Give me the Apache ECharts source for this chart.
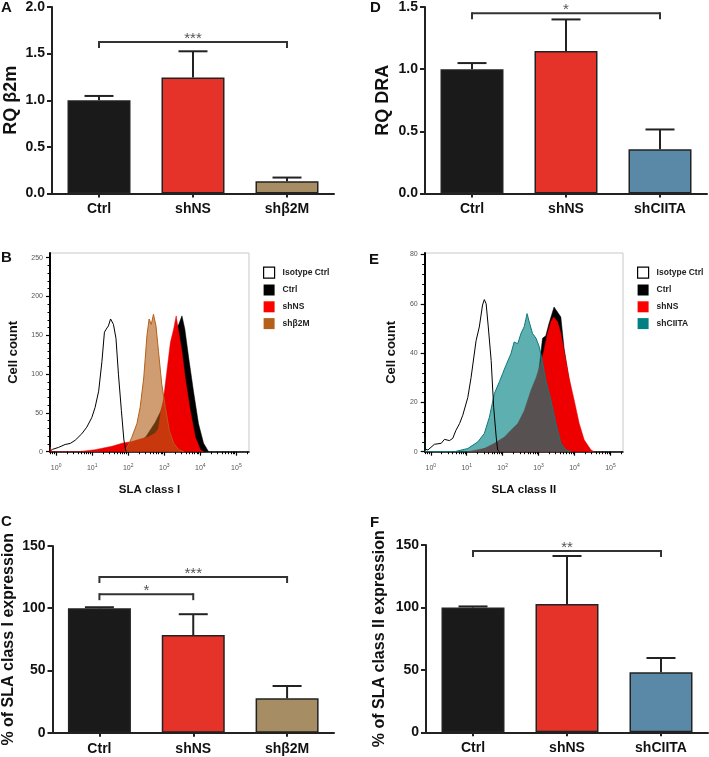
<!DOCTYPE html>
<html><head><meta charset="utf-8">
<script src="https://cdn.jsdelivr.net/npm/echarts@6/dist/echarts.min.js"></script>
<style>html,body{margin:0;padding:0;background:#fff}#c{width:709px;height:757px}</style>
</head><body><div id="c"></div>
<script>
// ---------- bar panels ----------
const catsA = ['Ctrl', 'shNS', 'shβ2M'];
const catsD = ['Ctrl', 'shNS', 'shCIITA'];
const valsA = [1.0, 1.243, 0.132];
const upA = [1.046, 1.525, 0.171];
const valsD = [1.0, 1.147, 0.355];
const upD = [1.049, 1.40, 0.515];
const valsC = [100, 78.4, 27.6];
const upC = [100.8, 95.2, 37.5];
const valsF = [100, 102.7, 48];
const upF = [100.8, 141.2, 59.5];
const colorsA = ['#1a1a1a', '#e5332a', '#a68d63'];
const colorsD = ['#1a1a1a', '#e5332a', '#5a89a8'];
const bracketsA = [[0, 2, 1.625]]; const starsA = ['***'];
const bracketsD = [[0, 2, 1.449]]; const starsD = ['*'];
const bracketsC = [[0, 2, 125.1], [0, 1, 111.3]]; const starsC = ['***', '*'];
const bracketsF = [[0, 2, 145.2]]; const starsF = ['**'];

// ---------- flow histograms: [log10 fluorescence, cell count] ----------
const decades = [0, 1, 2, 3, 4, 5];
const minorLog = [-0.155, -0.097, -0.046, 0.301, 0.477, 0.602, 0.699, 0.778, 0.845, 0.903, 0.954,
  1.301, 1.477, 1.602, 1.699, 1.778, 1.845, 1.903, 1.954, 2.301, 2.477, 2.602, 2.699, 2.778, 2.845, 2.903, 2.954,
  3.301, 3.477, 3.602, 3.699, 3.778, 3.845, 3.903, 3.954, 4.301, 4.477, 4.602, 4.699, 4.778, 4.845, 4.903, 4.954, 5.301];
const yMajorB = [0, 50, 100, 150, 200, 250];
const yMinorB = [10, 20, 30, 40, 60, 70, 80, 90, 110, 120, 130, 140, 160, 170, 180, 190, 210, 220, 230, 240];
const yMajorE = [0, 20, 40, 60, 80];
const yMinorE = [4, 8, 12, 16, 24, 28, 32, 36, 44, 48, 52, 56, 64, 68, 72, 76];

const isoB = [[-0.16, 1], [-0.1, 3], [0.07, 5.6], [0.25, 9.3], [0.39, 10.6], [0.53, 14.8], [0.71, 23], [0.85, 31.6], [0.99, 44], [1.08, 57], [1.18, 78], [1.27, 116], [1.34, 154], [1.39, 158], [1.45, 162], [1.51, 171], [1.59, 164], [1.66, 146], [1.73, 99], [1.81, 53], [1.88, 15], [1.94, 0]];
const ctrlB = [[1.2, 0], [1.55, 1.4], [2.01, 4.8], [2.29, 11], [2.5, 20], [2.75, 38], [2.9, 52], [2.98, 64], [3.07, 92], [3.17, 128], [3.31, 158], [3.4, 164], [3.49, 175], [3.57, 158], [3.68, 120], [3.81, 78], [3.95, 36], [4.09, 11], [4.23, 0]];
const shnsB = [[-0.17, 0], [-0.16, 6], [-0.14, 0], [0.62, 0], [1.08, 2.6], [1.55, 7], [1.83, 11], [2.1, 13], [2.38, 17], [2.56, 19], [2.75, 24], [2.84, 30], [2.9, 50], [2.98, 68], [3.07, 103], [3.17, 141], [3.26, 158], [3.33, 175], [3.4, 154], [3.49, 129], [3.58, 95], [3.72, 53], [3.86, 19], [4.0, 2.6], [4.09, 0]];
const b2mB = [[1.9, 0], [2.01, 9], [2.1, 18.7], [2.24, 36], [2.33, 57], [2.43, 95], [2.52, 150], [2.58, 171], [2.64, 164], [2.7, 177], [2.77, 162], [2.84, 129], [2.93, 87], [3.03, 57], [3.14, 27], [3.26, 11], [3.4, 2.6], [3.54, 0]];

const isoE = [[-0.17, 0], [-0.165, 78], [-0.155, 1], [-0.08, 0.7], [0.1, 3], [0.29, 3.4], [0.38, 5], [0.52, 4.5], [0.61, 5.4], [0.7, 8.7], [0.8, 11.4], [0.89, 14.8], [1.03, 22], [1.12, 30], [1.26, 45], [1.35, 50.6], [1.44, 59.5], [1.49, 61.7], [1.54, 60], [1.6, 50.6], [1.68, 37], [1.75, 18], [1.82, 6], [1.86, 0.7], [1.91, 0]];
const ciitaE = [[-0.17, 0], [-0.165, 6], [-0.15, 0], [0.66, 0], [1.03, 1.3], [1.31, 4], [1.49, 7.4], [1.63, 14], [1.77, 23.6], [1.91, 28.4], [2.0, 31.7], [2.09, 35], [2.23, 39.7], [2.32, 44.5], [2.42, 43.8], [2.51, 48], [2.6, 50.7], [2.68, 56], [2.74, 52.6], [2.83, 48], [2.93, 46], [3.02, 42.5], [3.08, 38.5], [3.2, 29], [3.34, 21], [3.48, 11.5], [3.62, 3.4], [3.76, 0.7], [3.9, 0]];
const shnsE = [[1.03, 0], [1.49, 1.3], [1.77, 3.4], [2.05, 6], [2.23, 8.7], [2.42, 11.4], [2.6, 16.6], [2.79, 25], [2.93, 30], [3.06, 36], [3.15, 41], [3.25, 48], [3.34, 52.6], [3.42, 54.6], [3.53, 52.6], [3.62, 48], [3.71, 41], [3.85, 30], [3.99, 21], [4.13, 11.5], [4.27, 4.8], [4.46, 0.7], [4.55, 0]];
const ctrlE = [[1.2, 0], [1.8, 2.5], [2.2, 6], [2.5, 11], [2.8, 20], [3.0, 32], [3.11, 46], [3.2, 47], [3.29, 52], [3.43, 58.7], [3.53, 56.6], [3.62, 54.6], [3.71, 42], [3.85, 29], [3.99, 16.6], [4.17, 6], [4.31, 0.7], [4.4, 0]];

const FF = '"Liberation Sans", Arial, sans-serif';

// ---------- helpers ----------
function barX(gi, cats) {
  return { gridIndex: gi, type: 'category', data: cats,
    axisLine: { lineStyle: { color: '#222', width: 2 } },
    axisTick: { show: true, alignWithLabel: true, length: 4, lineStyle: { color: '#222', width: 2 } },
    axisLabel: { fontFamily: FF, fontWeight: 'bold', fontSize: 14, color: '#111', margin: 9 } };
}
function barY(gi, max, interval, name, gap, nameSize, dec) {
  return { gridIndex: gi, type: 'value', min: 0, max: max, interval: interval,
    name: name, nameLocation: 'middle', nameRotate: 90, nameGap: gap,
    nameTextStyle: { fontFamily: FF, fontWeight: 'bold', fontSize: nameSize, color: '#111' },
    axisLine: { show: true, lineStyle: { color: '#222', width: 2 } },
    axisTick: { show: true, length: 5, lineStyle: { color: '#222', width: 2 } },
    splitLine: { show: false },
    axisLabel: { fontFamily: FF, fontWeight: 'bold', fontSize: 14, color: '#111', margin: 7,
      formatter: v => dec ? v.toFixed(1) : String(v) } };
}
function barSeries(gi, vals, colors) {
  return { type: 'bar', xAxisIndex: gi, yAxisIndex: gi, barWidth: 63,
    data: vals.map((v, i) => ({ value: v, itemStyle: { color: colors[i] } })),
    itemStyle: { borderColor: '#222', borderWidth: 1.5 }, z: 2 };
}
function errSeries(gi, vals, ups) {
  return { type: 'custom', xAxisIndex: gi, yAxisIndex: gi, z: 5,
    data: vals.map((v, i) => [i, v, ups[i]]), encode: { x: 0, y: [1, 2] },
    renderItem(params, api) {
      const p1 = api.coord([api.value(0), api.value(1)]);
      const p2 = api.coord([api.value(0), api.value(2)]);
      const st = { stroke: '#222', lineWidth: 2 };
      return { type: 'group', children: [
        { type: 'line', shape: { x1: p1[0], y1: p1[1], x2: p2[0], y2: p2[1] }, style: st },
        { type: 'line', shape: { x1: p2[0] - 14.5, y1: p2[1], x2: p2[0] + 14.5, y2: p2[1] }, style: st }
      ] };
    } };
}
function bracketSeries(gi, brackets, stars) {
  return { type: 'custom', xAxisIndex: gi, yAxisIndex: gi, z: 6,
    data: brackets, encode: { x: [0, 1], y: 2 },
    renderItem(params, api) {
      const a = api.coord([api.value(0), api.value(2)]);
      const b = api.coord([api.value(1), api.value(2)]);
      const st = { stroke: '#333', lineWidth: 2 };
      return { type: 'group', children: [
        { type: 'line', shape: { x1: a[0], y1: a[1], x2: b[0], y2: b[1] }, style: st },
        { type: 'line', shape: { x1: a[0], y1: a[1] - 1, x2: a[0], y2: a[1] + 6 }, style: st },
        { type: 'line', shape: { x1: b[0], y1: b[1] - 1, x2: b[0], y2: b[1] + 6 }, style: st },
        { type: 'text', x: (a[0] + b[0]) / 2, y: a[1] - 3.5,
          style: { text: stars[params.dataIndex], fill: '#555', font: '15px ' + FF, align: 'center', verticalAlign: 'middle' } }
      ] };
    } };
}
function flowX(gi, name) {
  return { gridIndex: gi, type: 'value', min: -0.17, max: 5.35, position: 'bottom',
    name: name, nameLocation: 'middle', nameGap: 32,
    nameTextStyle: { fontFamily: FF, fontWeight: 'bold', fontSize: 11.5, color: '#111' },
    axisLine: { onZero: false, lineStyle: { color: '#000', width: 1.5 } },
    axisTick: { customValues: decades, length: 4, lineStyle: { color: '#000', width: 1.2 } },
    splitLine: { show: false },
    axisLabel: { customValues: decades, margin: 11, color: '#555',
      formatter: v => '{b|10}{s|' + Math.round(v) + '}',
      rich: { b: { fontFamily: FF, fontSize: 7, color: '#555' }, s: { fontFamily: FF, fontSize: 5, color: '#555', verticalAlign: 'top', padding: [0, 0, 5, 0] } } } };
}
function flowXMinor(gi) {
  return { gridIndex: gi, type: 'value', min: -0.17, max: 5.35, position: 'bottom',
    axisLine: { show: false, onZero: false }, axisLabel: { show: false }, splitLine: { show: false },
    axisTick: { customValues: minorLog, length: 2.5, lineStyle: { color: '#000', width: 1 } } };
}
function flowY(gi, max, major, name, gap) {
  return { gridIndex: gi, type: 'value', min: 0, max: max, position: 'left',
    name: name, nameLocation: 'middle', nameRotate: 90, nameGap: gap,
    nameTextStyle: { fontFamily: FF, fontWeight: 'bold', fontSize: 13, color: '#111' },
    axisLine: { show: true, onZero: false, lineStyle: { color: '#000', width: 2 } },
    axisTick: { customValues: major, length: 4, lineStyle: { color: '#000', width: 1.2 } },
    splitLine: { show: false },
    axisLabel: { customValues: major, fontFamily: FF, fontSize: 7, color: '#555', margin: 7 } };
}
function flowYMinor(gi, max, minor) {
  return { gridIndex: gi, type: 'value', min: 0, max: max, position: 'left',
    axisLine: { show: false, onZero: false }, axisLabel: { show: false }, splitLine: { show: false },
    axisTick: { customValues: minor, length: 2.5, lineStyle: { color: '#000', width: 1 } } };
}
function flowSeries(name, xi, yi, data, line, area, z, lw) {
  const s = { name: name, type: 'line', xAxisIndex: xi, yAxisIndex: yi, data: data,
    symbol: 'none', showSymbol: false, smooth: false, z: z, color: line,
    lineStyle: { color: line, width: lw } };
  if (area) s.areaStyle = { color: area, opacity: 1 };
  return s;
}
function legend(left, last, lastColor) {
  return { left: left, top: 266.5, orient: 'vertical', icon: 'rect', itemWidth: 11, itemHeight: 11, itemGap: 5.8,
    selectedMode: false, padding: 0,
    textStyle: { fontFamily: FF, fontWeight: 'bold', fontSize: 8.5, color: '#222', padding: [0, 0, 0, 3] },
    data: [
      { name: 'Isotype Ctrl', itemStyle: { color: '#fff', borderColor: '#000', borderWidth: 1.2 } },
      { name: 'Ctrl', itemStyle: { color: '#000' } },
      { name: 'shNS', itemStyle: { color: '#ff0000' } },
      { name: last, itemStyle: { color: lastColor } }
    ] };
}
const letter = (t, l, tp) => ({ text: t, left: l, top: tp, padding: 0,
  textStyle: { fontFamily: FF, fontWeight: 'bold', fontSize: 15, color: '#111' } });

const option = {
  animation: false,
  backgroundColor: '#fff',
  title: [letter('A', 1, 0), letter('D', 370, 0), letter('B', 1, 250), letter('E', 369, 252), letter('C', 1, 514), letter('F', 370, 515)],
  legend: [legend(263, 'shβ2M', '#b4601a'), legend(637, 'shCIITA', '#008080')],
  grid: [
    { left: 52, top: 7, width: 282, height: 186.5 },
    { left: 425, top: 6, width: 282, height: 187.5 },
    { left: 50, top: 253, width: 199, height: 198.7, show: true, borderColor: '#c8c8c8', borderWidth: 1 },
    { left: 424.7, top: 253, width: 198.3, height: 198.7, show: true, borderColor: '#c8c8c8', borderWidth: 1 },
    { left: 52, top: 546, width: 282, height: 186.7 },
    { left: 426, top: 545, width: 282, height: 187.3 }
  ],
  xAxis: [barX(0, catsA), barX(1, catsD), flowX(2, 'SLA class I'), flowX(3, 'SLA class II'), barX(4, catsA), barX(5, catsD),
    flowXMinor(2), flowXMinor(3)],
  yAxis: [barY(0, 2, 0.5, 'RQ β2m', 32, 18, true), barY(1, 1.5, 0.5, 'RQ DRA', 33, 18, true),
    flowY(2, 256, yMajorB, 'Cell count', 30), flowY(3, 80.6, yMajorE, 'Cell count', 27),
    barY(4, 150, 50, '% of SLA class I expression', 35.5, 16, false), barY(5, 150, 50, '% of SLA class II expression', 38, 16, false),
    flowYMinor(2, 256, yMinorB), flowYMinor(3, 80.6, yMinorE)],
  series: [
    barSeries(0, valsA, colorsA), errSeries(0, valsA, upA), bracketSeries(0, bracketsA, starsA),
    barSeries(1, valsD, colorsD), errSeries(1, valsD, upD), bracketSeries(1, bracketsD, starsD),
    barSeries(4, valsC, colorsA), errSeries(4, valsC, upC), bracketSeries(4, bracketsC, starsC),
    barSeries(5, valsF, colorsD), errSeries(5, valsF, upF), bracketSeries(5, bracketsF, starsF),
    flowSeries('Ctrl', 2, 2, ctrlB, '#000', '#000', 2, 0.5),
    flowSeries('shNS', 2, 2, shnsB, '#ee0000', '#ee0000', 3, 0.5),
    flowSeries('shβ2M', 2, 2, b2mB, '#b4601a', 'rgba(176,92,20,0.6)', 4, 1),
    flowSeries('Isotype Ctrl', 2, 2, isoB, '#000', null, 5, 1),
    flowSeries('Ctrl', 3, 3, ctrlE, '#000', '#000', 2, 0.5),
    flowSeries('shNS', 3, 3, shnsE, '#ee0000', '#ee0000', 3, 0.5),
    flowSeries('shCIITA', 3, 3, ciitaE, '#0e7a7a', 'rgba(0,128,128,0.63)', 4, 1),
    flowSeries('Isotype Ctrl', 3, 3, isoE, '#000', null, 5, 1)
  ]
};
const chart = echarts.init(document.getElementById('c'), null, { renderer: 'canvas' });
chart.setOption(option);
</script></body></html>
